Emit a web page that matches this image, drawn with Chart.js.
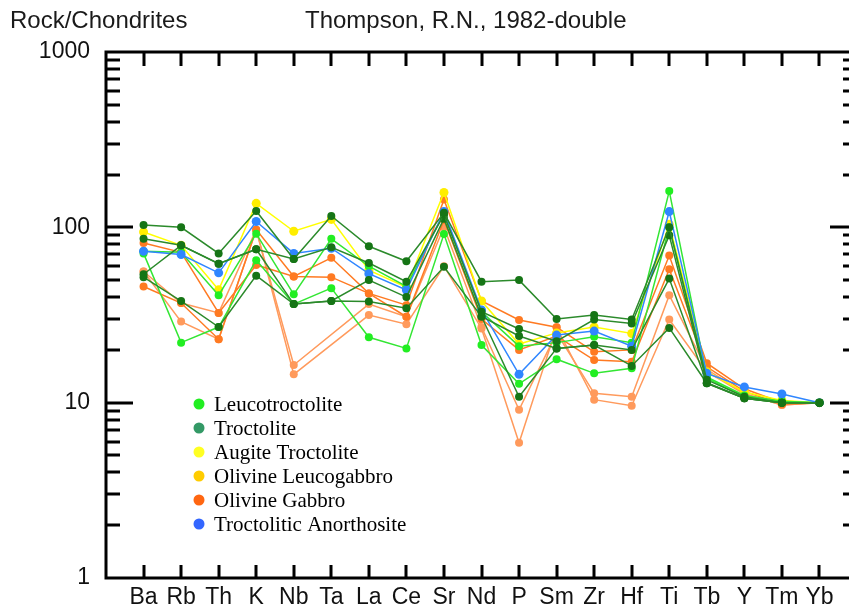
<!DOCTYPE html>
<html>
<head>
<meta charset="utf-8">
<script src="https://cdn.jsdelivr.net/npm/chart.js@4.4.0/dist/chart.umd.min.js"></script>
<style>
  html, body { margin: 0; padding: 0; background: #fff; overflow: hidden; }
  #wrap { position: relative; width: 870px; height: 611px; }
</style>
</head>
<body>
<div id="wrap"><canvas id="myChart"></canvas></div>
<script>
// element order of the spider diagram
const elements = ['Ba', 'Rb', 'Th', 'K', 'Nb', 'Ta', 'La', 'Ce', 'Sr', 'Nd', 'P', 'Sm', 'Zr', 'Hf', 'Ti', 'Tb', 'Y', 'Tm', 'Yb']
const yTickValues = [1, 10, 100, 1000]

const groupNames = ['Leucotroctolite', 'Troctolite', 'Augite Troctolite', 'Olivine Leucogabbro', 'Olivine Gabbro', 'Troctolitic Anorthosite']
const groupColors = ['#22ee22', '#339966', '#ffff22', '#ffcc00', '#ff6611', '#3366ff']

// rock / chondrite values (null = not analysed)
const leucoA = [71, 22, 27, 65, 36.5, 45, 23.6, 20.4, 91.5, 21.3, 12.8, 17.7, 14.7, 15.7, 100, 13.8, 10.8, 10.1, 10]
const leucoB = [73, 72, 41, 92, 41.5, 86, 60, 46, 120, 33, 21, 22, 23.8, 22, 161, 14, 11, 10.2, 10]
const troctA = [103, 100, 71, 124, 66, 116, 78, 64, 121, 49, 50, 30, 31.6, 29.8, 100, 13.5, 10.8, 10, 10]
const troctB = [86, 79, 62, 75, 66, 77, 62.6, 49, 118, 33, 26.3, 22.4, 29.8, 28.3, 90, 13, 10.6, 10, 10]
const troctC = [54, 79, 62, 75, 36.5, 38, 50, 40, 112, 31, 24, 20.4, 21.3, 20, 51, 12.9, 10.6, 10, 10]
const troctD = [52, 38, 27, 53, 36.5, 38, 37.7, 34.6, 59.5, 31, 10.8, 20.4, 21.3, 16.2, 26.7, 12.9, 10.6, 10, 10]
const augite = [94, 79, 44, 137, 95, 111, 57, 45.5, 158, 38, 21.6, 25, 27, 24.8, 104, 15, 11.5, 10.3, 10]
const gabbroA = [81.5, 72, 32.5, 61, 52.5, 67, 42, 36, 144, 38, 29.6, 26.9, 19.5, 20, 69, 16.8, 12, 10, 10]
const gabbroB = [46, 37, 23, 97, 52.5, 52, 42, 30.9, 110, 30, 20, 24, 17.5, 17.1, 57.6, 16, 11.6, 9.8, 10]
const gabbroC = [56, 37, 32.5, 97, 16.4, null, 36.5, 30.9, 100, 27, 9.1, 25, 11.3, 10.8, 41, 15.5, 11.3, 9.7, 10]
const gabbroD = [56, 29, 23, 97, 14.5, null, 31.6, 28, 60, 26.5, 5.9, 26.9, 10.4, 9.6, 29.8, 15, 11.2, 9.7, 10]
const anorth = [73, 70, 55, 108, 71, 76, 54.4, 43.9, 123, 33.8, 14.5, 24.3, 25.6, 21, 123, 14.7, 12.3, 11.2, 10]

// first in list = drawn on top
const series = [
    { group: 1, line: '#2b8a2b', dot: '#167516', r: 4, values: troctA },
    { group: 1, line: '#2b8a2b', dot: '#167516', r: 4, values: troctB },
    { group: 1, line: '#2b8a2b', dot: '#167516', r: 4, values: troctC },
    { group: 1, line: '#2b8a2b', dot: '#167516', r: 4, values: troctD },
    { group: 5, line: '#2f86ff', dot: '#2f86ff', r: 4.5, values: anorth },
    { group: 0, line: '#33e633', dot: '#22ee22', r: 4, values: leucoA },
    { group: 0, line: '#33e633', dot: '#22ee22', r: 4, values: leucoB },
    { group: 2, line: '#ffff00', dot: '#ffee00', r: 4.5, values: augite },
    { group: 4, line: '#ff7a22', dot: '#ff7a22', r: 4, values: gabbroA },
    { group: 4, line: '#ff7a22', dot: '#ff7a22', r: 4, values: gabbroB },
    { group: 4, line: '#ff9a5c', dot: '#ff9a5c', r: 4, values: gabbroC },
    { group: 4, line: '#ff9a5c', dot: '#ff9a5c', r: 4, values: gabbroD },
]

const frameAndLegend = {
    id: 'frameAndLegend',
    afterDatasetsDraw(chart) {
        const { ctx, chartArea: a, scales } = chart
        const xs = scales.x, ys = scales.y
        ctx.save()
        ctx.strokeStyle = '#000'
        ctx.lineWidth = 3
        ctx.beginPath()
        ctx.rect(a.left, a.top, a.right - a.left, a.bottom - a.top)
        // inward log ticks, major and minor
        for (let d = 1; d <= 1000; d *= 10) {
            for (let m = 1; m <= 9; m++) {
                const v = d * m
                if (v > 1000) break
                const py = Math.round(ys.getPixelForValue(v))
                const len = m === 1 ? 27 : 14
                ctx.moveTo(a.left, py); ctx.lineTo(a.left + len, py)
                ctx.moveTo(a.right, py); ctx.lineTo(a.right - len, py)
            }
        }
        elements.forEach((e, i) => {
            const px = Math.round(xs.getPixelForValue(i))
            ctx.moveTo(px, a.top); ctx.lineTo(px, a.top + 14)
            ctx.moveTo(px, a.bottom); ctx.lineTo(px, a.bottom - 13)
        })
        ctx.stroke()

        // legend inside the plot
        ctx.font = '21px "Liberation Serif", "DejaVu Serif", serif'
        ctx.textBaseline = 'middle'
        ctx.textAlign = 'left'
        groupNames.forEach((name, i) => {
            const cy = a.top + 352 + i * 24
            ctx.fillStyle = groupColors[i]
            ctx.beginPath()
            ctx.arc(a.left + 93, cy, 5.5, 0, Math.PI * 2)
            ctx.fill()
            ctx.fillStyle = '#000'
            ctx.fillText(name, a.left + 108, cy + 1)
        })

        // header texts
        ctx.font = '24px "Liberation Sans", Arial, sans-serif'
        ctx.fillStyle = '#1a1a1a'
        ctx.fillText('Rock/Chondrites', 10, 21)
        ctx.fillText('Thompson, R.N., 1982-double', 305, 21)
        ctx.restore()
    }
}

const ctx = document.getElementById('myChart').getContext('2d')
const myChart = new Chart(ctx, {
    type: 'line',
    data: {
        datasets: series.map((s) => ({
            label: groupNames[s.group],
            data: s.values.map((v, i) => ({ x: i, y: v })),
            borderColor: s.line,
            backgroundColor: s.dot,
            pointBackgroundColor: s.dot,
            pointBorderColor: s.dot,
            pointRadius: s.r,
            pointBorderWidth: 0,
            borderWidth: 1.5,
            tension: 0,
            spanGaps: true,
        }))
    },
    options: {
        responsive: true,
        maintainAspectRatio: false,
        animation: false,
        events: [],
        layout: { padding: { top: 52, right: 13, left: 0, bottom: 0 } },
        plugins: {
            legend: { display: false },
            tooltip: { enabled: false },
        },
        scales: {
            x: {
                type: 'linear',
                min: -1,
                max: elements.length,
                grid: { display: false, drawTicks: false },
                border: { display: false },
                afterFit: (s) => { s.height = 33 },
                ticks: {
                    stepSize: 1,
                    autoSkip: false,
                    maxRotation: 0,
                    padding: 6,
                    color: '#111',
                    font: { family: '"Liberation Sans", Arial, sans-serif', size: 23 },
                    callback: (v) => elements[v] !== undefined ? elements[v] : ''
                }
            },
            y: {
                type: 'logarithmic',
                min: 1,
                max: 1000,
                grid: { display: false, drawTicks: false },
                border: { display: false },
                afterFit: (s) => { s.width = 106 },
                afterBuildTicks: (s) => { s.ticks = yTickValues.map((v) => ({ value: v })) },
                ticks: {
                    autoSkip: false,
                    padding: 16,
                    color: '#111',
                    font: { family: '"Liberation Sans", Arial, sans-serif', size: 23 },
                    callback: (v) => String(v)
                }
            }
        }
    },
    plugins: [frameAndLegend]
})
</script>
</body>
</html>
